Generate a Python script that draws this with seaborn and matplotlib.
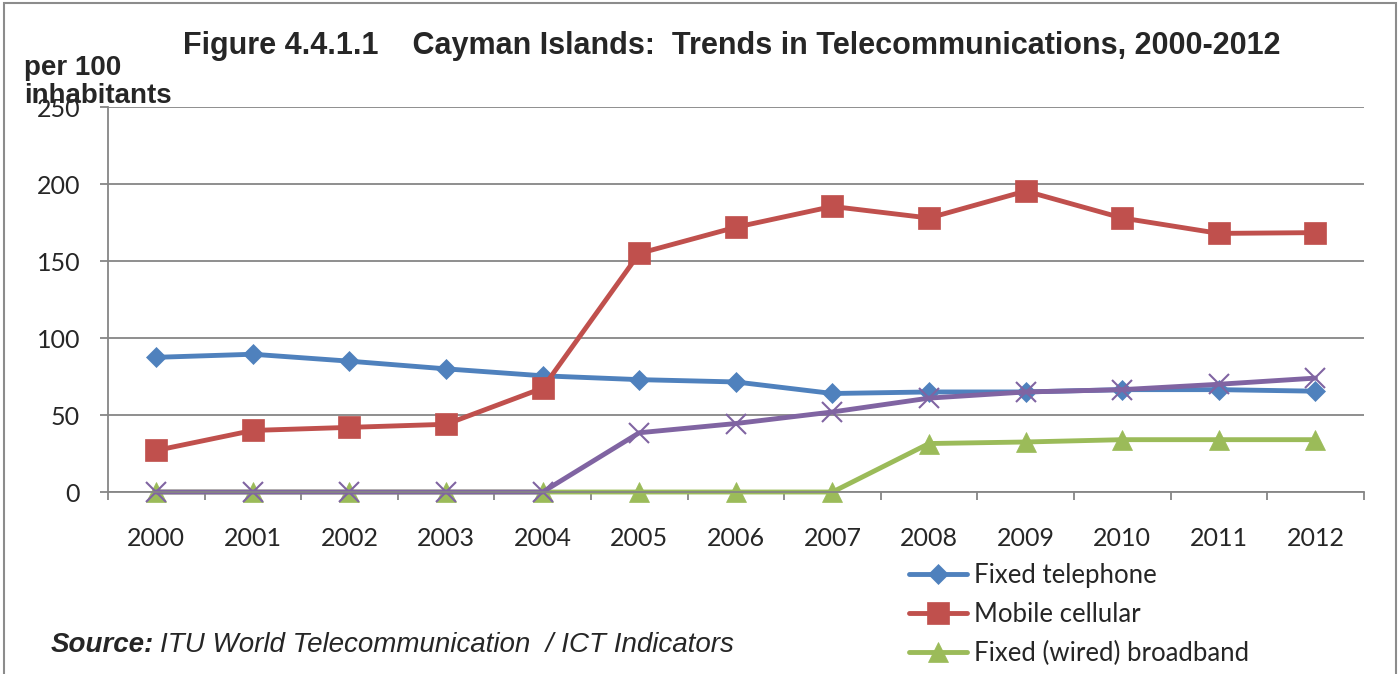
import matplotlib
matplotlib.use('Agg')
import matplotlib.pyplot as plt
import seaborn as sns
import pandas as pd
import numpy as np
from matplotlib.patches import Rectangle

# Data (per 100 inhabitants)
years = [2000, 2001, 2002, 2003, 2004, 2005, 2006, 2007, 2008, 2009, 2010, 2011, 2012]
fixed_telephone = [87.5, 89.5, 85, 80, 75.5, 73, 71.5, 64, 65, 65, 66.5, 66.5, 65.5]
mobile_cellular = [27, 40, 42, 44, 67.5, 155, 172, 185.5, 178, 195.5, 178, 168, 168.5]
fixed_broadband = [0, 0, 0, 0, 0, 0, 0, 0, 31.5, 32.5, 34, 34, 34]
other_series = [0, 0, 0, 0, 0, 38.5, 44.5, 52, 61, 65, 66.5, 70, 74]

series_names = ['Fixed telephone', 'Mobile cellular', 'Fixed (wired) broadband', '_nolegend_']
series_values = [fixed_telephone, mobile_cellular, fixed_broadband, other_series]
colors = ['#4F81BD', '#C0504D', '#9BBB59', '#8064A2']
markers = ['D', 's', '^', 'x']
msizes = [10.5, 16, 15, 14]

sns.set_style('white')
plt.rcParams['font.family'] = ['Lato', 'DejaVu Sans']

fig = plt.figure(figsize=(14, 6.74), dpi=100)
ax = fig.add_axes([0.0771, 0.27, 0.897, 0.571])

for name, vals, c, m, ms in zip(series_names, series_values, colors, markers, msizes):
    df = pd.DataFrame({'year': years, 'value': vals})
    sns.lineplot(data=df, x='year', y='value', ax=ax, color=c, marker=m,
                 markersize=ms, linewidth=3.5, markeredgecolor=c,
                 markeredgewidth=1.5 if m == 'x' else 0.5, label=name, clip_on=False)

ax.set_xlim(years[0] - 0.5, years[-1] + 0.5)
ax.set_ylim(0, 250)
ax.set_yticks([0, 50, 100, 150, 200, 250])
ax.set_xticks(years)
ax.set_xticks(np.arange(years[0] - 0.5, years[-1] + 1, 1), minor=True)
ax.set_xlabel('')
ax.set_ylabel('')

ax.grid(axis='y', color='#868686', linewidth=1.3)
ax.set_axisbelow(True)
for s in ['top', 'right']:
    ax.spines[s].set_visible(False)
for s in ['left', 'bottom']:
    ax.spines[s].set_color('#868686')
    ax.spines[s].set_linewidth(1.3)

ax.tick_params(axis='x', which='major', length=0, pad=25, labelsize=18)
ax.tick_params(axis='x', which='minor', length=6, width=1.3, color='#868686', direction='out', bottom=True)
ax.tick_params(axis='y', length=6, width=1.3, color='#868686', direction='out', pad=14, labelsize=18, left=True)

leg = ax.legend(loc='upper left', bbox_to_anchor=(0.630, -0.158), frameon=False,
                fontsize=18.5, handlelength=2.26, handletextpad=0.27, labelspacing=0.545,
                borderaxespad=0)

fig.text(0.523, 0.932, 'Figure 4.4.1.1    Cayman Islands:  Trends in Telecommunications, 2000-2012',
         ha='center', va='center', fontsize=22, fontweight='bold', family='Liberation Sans')
fig.text(0.017, 0.878, 'per 100\ninhabitants', ha='left', va='center', fontsize=20,
         fontweight='bold', family='Liberation Sans', linespacing=1.1)
fig.text(0.036, 0.043, 'Source:', ha='left', va='center', fontsize=20,
         fontweight='bold', style='italic', family='Liberation Sans')
fig.text(0.1143, 0.043, 'ITU World Telecommunication  / ICT Indicators', ha='left', va='center',
         fontsize=20, style='italic', family='Liberation Sans')

fig.patches.append(Rectangle((0.003, -0.05), 0.994, 1.045, transform=fig.transFigure,
                             fill=False, edgecolor='#8c8c8c', linewidth=1.5))

fig.savefig('out.png', dpi=100)
